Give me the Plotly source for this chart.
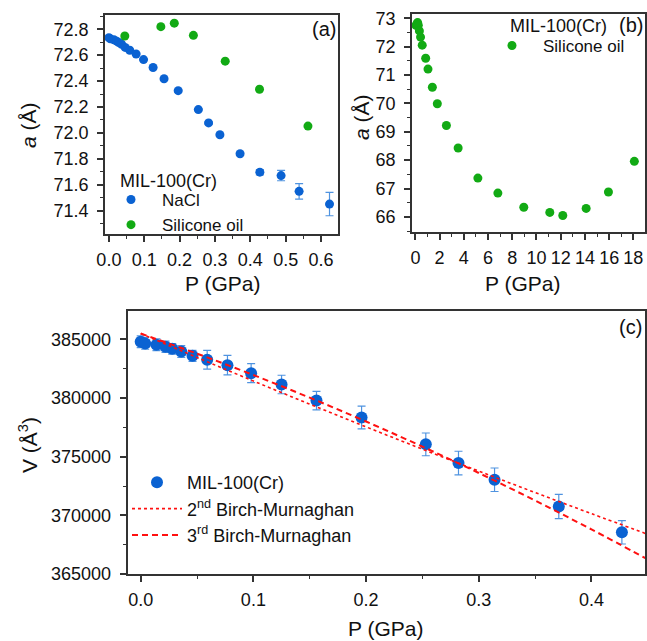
import plotly.graph_objects as go

# ---------------- data ----------------
# Panel (a): lattice parameter vs pressure, NaCl medium
P_NACL = [0.0, 0.004, 0.014, 0.022, 0.028, 0.036, 0.046, 0.059, 0.077, 0.098, 0.125,
          0.156, 0.196, 0.253, 0.282, 0.314, 0.371, 0.427, 0.487, 0.538, 0.624]
A_NACL = [72.735, 72.726, 72.719, 72.708, 72.698, 72.684, 72.660, 72.638, 72.609, 72.566, 72.505,
          72.418, 72.326, 72.180, 72.077, 71.986, 71.839, 71.697, 71.671, 71.549, 71.451]
A_NACL_ERR = [0.005, 0.005, 0.005, 0.005, 0.005, 0.005, 0.005, 0.005, 0.005, 0.005, 0.005,
              0.006, 0.006, 0.008, 0.008, 0.008, 0.012, 0.02, 0.04, 0.06, 0.09]
# Panel (a): silicone oil medium (low pressure part)
P_OIL_A = [0.045, 0.147, 0.185, 0.239, 0.329, 0.426, 0.563]
A_OIL_A = [72.748, 72.820, 72.847, 72.753, 72.554, 72.337, 72.053]

# Panel (b): silicone oil, full pressure range
P_OIL_B = [0.045, 0.147, 0.185, 0.239, 0.329, 0.426, 0.563, 0.85, 1.04, 1.40, 1.81,
           2.56, 3.53, 5.16, 6.81, 8.95, 11.10, 12.17, 14.10, 15.94, 18.08]
A_OIL_B = [72.748, 72.820, 72.847, 72.753, 72.554, 72.337, 72.053, 71.59, 71.21, 70.57, 69.99,
           69.22, 68.43, 67.37, 66.84, 66.34, 66.16, 66.05, 66.30, 66.88, 67.96]

# Panel (c): unit-cell volume vs pressure
P_V = [0.0, 0.004, 0.014, 0.022, 0.028, 0.036, 0.046, 0.059, 0.077, 0.098, 0.125,
       0.156, 0.196, 0.253, 0.282, 0.314, 0.371, 0.427]
V = [384795, 384658, 384540, 384368, 384197, 383974, 383600, 383256, 382803, 382120, 381154,
     379786, 378333, 376051, 374453, 373034, 370752, 368556]
V_ERR = [500, 500, 500, 480, 450, 500, 470, 800, 830, 810, 790,
         790, 970, 970, 1010, 1000, 1030, 1000]

# Birch-Murnaghan fit curves
P_FIT = [0.0, 0.05, 0.10, 0.15, 0.20, 0.25, 0.30, 0.35, 0.40, 0.45]
V_BM2 = [385500, 383458, 381451, 379479, 377542, 375640, 373773, 371941, 370144, 368382]
V_BM3 = [385500, 383783, 381960, 380031, 377997, 375857, 373611, 371260, 368803, 366240]

LEGEND_TITLE = "MIL-100(Cr)"

# ---------------- styling ----------------
W, H = 647, 641
BLUE = "#0a62d2"
EBLUE = "#4f93e0"
GREEN = "#12aa14"
RED = "#ff1010"
AXC = "#333333"
FONT = "Liberation Sans, Arial, sans-serif"
TXT = "#111111"
TICKF = dict(family=FONT, size=18, color=TXT)


def px_x(x):
    return x / W


def px_y(y):
    return 1 - y / H


fig = go.Figure()

# Panel (a)
fig.add_trace(go.Scatter(
    x=P_NACL, y=A_NACL, mode="markers", name="NaCl",
    marker=dict(color=BLUE, size=9),
    error_y=dict(type="data", array=A_NACL_ERR, color=EBLUE, thickness=1.2, width=4),
    xaxis="x", yaxis="y", legend="legend"))
fig.add_trace(go.Scatter(
    x=P_OIL_A, y=A_OIL_A, mode="markers", name="Silicone oil",
    marker=dict(color=GREEN, size=9),
    xaxis="x", yaxis="y", legend="legend"))

# Panel (b)
fig.add_trace(go.Scatter(
    x=P_OIL_B, y=A_OIL_B, mode="markers", name="Silicone oil",
    marker=dict(color=GREEN, size=9),
    xaxis="x2", yaxis="y2", legend="legend2"))

# Panel (c)
fig.add_trace(go.Scatter(
    x=P_V, y=V, mode="markers", name="MIL-100(Cr)",
    marker=dict(color=BLUE, size=12),
    error_y=dict(type="data", array=V_ERR, color=EBLUE, thickness=1.2, width=4),
    xaxis="x3", yaxis="y3", legend="legend3"))
fig.add_trace(go.Scatter(
    x=P_FIT, y=V_BM2, mode="lines", name="2<sup>nd</sup> Birch-Murnaghan",
    line=dict(color=RED, width=1.6, dash="dot", shape="spline"),
    xaxis="x3", yaxis="y3", legend="legend3"))
fig.add_trace(go.Scatter(
    x=P_FIT, y=V_BM3, mode="lines", name="3<sup>rd</sup> Birch-Murnaghan",
    line=dict(color=RED, width=2, dash="6px,4px", shape="spline"),
    xaxis="x3", yaxis="y3", legend="legend3"))

axis_common = dict(showline=True, linecolor=AXC, linewidth=1.5, mirror=True,
                   ticks="outside", tickcolor=AXC, tickwidth=1.5, ticklen=6,
                   showgrid=False, zeroline=False, tickfont=TICKF, automargin=False)
xstand = dict(ticklabelstandoff=3)
ystand = dict(ticklabelstandoff=5)
minor = dict(ticks="outside", ticklen=3, tickcolor=AXC, tickwidth=1.2, showgrid=False)

LEGF = dict(family=FONT, size=17, color=TXT)

fig.update_layout(
    width=W, height=H, margin=dict(l=0, r=0, t=0, b=0, autoexpand=False),
    paper_bgcolor="white", plot_bgcolor="white",
    font=dict(family=FONT, color=TXT),
    xaxis=dict(axis_common, **xstand, domain=[px_x(105), px_x(338)], range=[-0.011, 0.648],
               dtick=0.1, tick0=0, tickformat=".1f", minor=dict(minor, dtick=0.05),
               anchor="y"),
    yaxis=dict(axis_common, **ystand, domain=[px_y(234), px_y(15)], range=[71.22, 72.91],
               dtick=0.2, tick0=71.4, tickformat=".1f", minor=dict(minor, dtick=0.1),
               anchor="x"),
    xaxis2=dict(axis_common, **xstand, domain=[px_x(412), px_x(645)], range=[-0.28, 18.96],
                dtick=2, tick0=0, minor=dict(minor, dtick=1), anchor="y2"),
    yaxis2=dict(axis_common, **ystand, domain=[px_y(232), px_y(14)], range=[65.47, 73.15],
                dtick=1, tick0=66, minor=dict(minor, dtick=0.5), anchor="x2"),
    xaxis3=dict(axis_common, **xstand, domain=[px_x(127.5), px_x(645)], range=[-0.0117, 0.4475],
                dtick=0.1, tick0=0, tickformat=".1f", minor=dict(minor, dtick=0.05),
                anchor="y3"),
    yaxis3=dict(axis_common, **ystand, domain=[px_y(574), px_y(311)], range=[365000, 387419],
                dtick=5000, tick0=365000, tickformat="d", minor=dict(minor, dtick=2500),
                anchor="x3"),
    legend=dict(x=px_x(100), y=px_y(182), xanchor="left", yanchor="top",
                bgcolor="rgba(0,0,0,0)", font=LEGF, tracegroupgap=0, itemwidth=52),
    legend2=dict(x=px_x(481), y=px_y(28), xanchor="left", yanchor="top",
                 bgcolor="rgba(0,0,0,0)", font=LEGF, itemwidth=52),
    legend3=dict(x=px_x(127), y=px_y(464), xanchor="left", yanchor="top",
                 bgcolor="rgba(0,0,0,0)", font=dict(family=FONT, size=18, color=TXT),
                 itemwidth=50, tracegroupgap=0),
)

ann = []
# legend titles
ann.append(dict(text=LEGEND_TITLE, x=px_x(118), y=px_y(181), xanchor="left",
                font=dict(family=FONT, size=18, color=TXT)))
ann.append(dict(text=LEGEND_TITLE, x=px_x(508), y=px_y(26), xanchor="left",
                font=dict(family=FONT, size=18, color=TXT)))
# axis titles
ann.append(dict(text="<i>a</i> (Å)", x=px_x(28), y=px_y(125), textangle=-90,
                font=dict(family=FONT, size=21, color=TXT)))
ann.append(dict(text="P (GPa)", x=px_x(222), y=px_y(284),
                font=dict(family=FONT, size=21, color=TXT)))
ann.append(dict(text="<i>a</i> (Å)", x=px_x(362), y=px_y(117), textangle=-90,
                font=dict(family=FONT, size=21, color=TXT)))
ann.append(dict(text="P (GPa)", x=px_x(522), y=px_y(283),
                font=dict(family=FONT, size=21, color=TXT)))
ann.append(dict(text="V (Å<sup>3</sup>)", x=px_x(28), y=px_y(445), textangle=-90,
                font=dict(family=FONT, size=21, color=TXT)))
ann.append(dict(text="P (GPa)", x=px_x(385), y=px_y(628),
                font=dict(family=FONT, size=21, color=TXT)))
# panel labels
ann.append(dict(text="(a)", x=px_x(324), y=px_y(29), font=dict(family=FONT, size=20, color=TXT)))
ann.append(dict(text="(b)", x=px_x(631), y=px_y(25), font=dict(family=FONT, size=20, color=TXT)))
ann.append(dict(text="(c)", x=px_x(630), y=px_y(327), font=dict(family=FONT, size=20, color=TXT)))
for a in ann:
    a.setdefault("xanchor", "center")
    a.update(xref="paper", yref="paper", showarrow=False, yanchor="middle")
fig.update_layout(annotations=ann)

fig.write_html(
    "out.html",
    config={"displayModeBar": False},
    post_script="document.body.style.margin='0';document.body.style.overflow='hidden';",
)
